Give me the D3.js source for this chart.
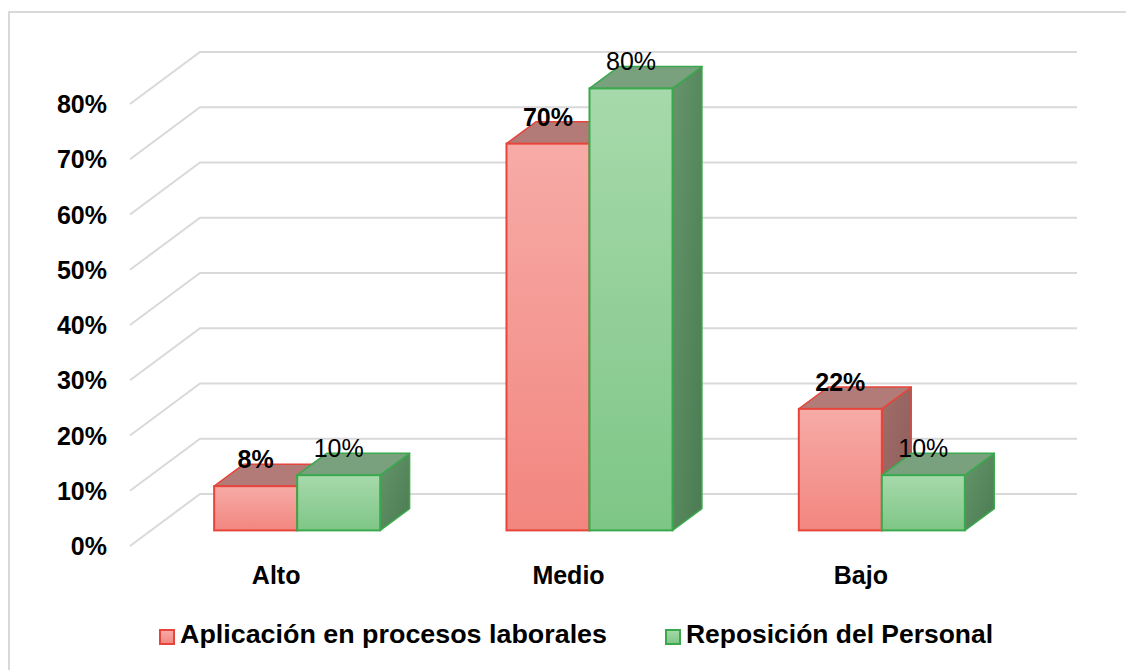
<!DOCTYPE html>
<html>
<head>
<meta charset="utf-8">
<script src="https://cdn.jsdelivr.net/npm/d3@7"></script>
<style>
  body { margin: 0; background: #fff; }
  text { font-family: Arial, "Liberation Sans", sans-serif; }
</style>
</head>
<body>
<div id="chart"></div>
<script>
const categories = ["Alto", "Medio", "Bajo"];
const seriesNames = ["Aplicación en procesos laborales", "Reposición del Personal"];
const aplicacion = [0.08, 0.70, 0.22];
const reposicion = [0.10, 0.80, 0.10];
const yTicks = [0, 0.1, 0.2, 0.3, 0.4, 0.5, 0.6, 0.7, 0.8];

function draw_chart() {
  var width = 1126, height = 670;
  // depth vector of the floor (front edge -> back wall)
  var depth = {dx: 70, dy: -52};
  var barT0 = 0.3, barT1 = 0.72;

  const svg = d3.select("#chart").append("svg")
    .attr("width", width).attr("height", height);

  // outer frame
  svg.append("rect")
    .attr("x", 9).attr("y", 12)
    .attr("width", 1130).attr("height", 680)
    .attr("fill", "none").attr("stroke", "#d9d9d9").attr("stroke-width", 2);

  const y = d3.scaleLinear().domain([0, 0.8]).range([546, 104]);
  const x0 = d3.scaleBand().domain(categories).range([130, 1007]);
  const groupW = x0.bandwidth() * 0.568;
  const x1 = d3.scaleBand().domain(seriesNames).range([0, groupW]);

  const colors = {
    "Aplicación en procesos laborales": {top: "#f7aba7", bottom: "#f2867f", stroke: "#e6453b", lid: "#b37b78", side1: "#a06d69", side2: "#8e5d59"},
    "Reposición del Personal": {top: "#a7d9ab", bottom: "#7ec686", stroke: "#3aa84c", lid: "#7aa17d", side1: "#659569", side2: "#4b7b52"}
  };

  const defs = svg.append("defs");
  seriesNames.forEach((s, i) => {
    const g = defs.append("linearGradient").attr("id", "front" + i)
      .attr("x1", 0).attr("y1", 0).attr("x2", 0).attr("y2", 1);
    g.append("stop").attr("offset", "0%").attr("stop-color", colors[s].top);
    g.append("stop").attr("offset", "100%").attr("stop-color", colors[s].bottom);
    const h = defs.append("linearGradient").attr("id", "side" + i)
      .attr("x1", 0).attr("y1", 0).attr("x2", 1).attr("y2", 1);
    h.append("stop").attr("offset", "0%").attr("stop-color", colors[s].side1);
    h.append("stop").attr("offset", "100%").attr("stop-color", colors[s].side2);
  });

  // gridlines: diagonal on the side wall + back wall line
  const grid = svg.append("g")
    .attr("stroke", "#d9d9d9").attr("stroke-width", 2).attr("fill", "none");
  grid.selectAll("path")
    .data(yTicks)
    .join("path")
    .attr("d", d => `M130,${y(d)}L${130 + depth.dx},${y(d) + depth.dy}L${1007 + depth.dx},${y(d) + depth.dy}`);

  // y axis labels
  svg.append("g").selectAll("text")
    .data(yTicks)
    .join("text")
    .attr("x", 107)
    .attr("y", d => y(d))
    .attr("dy", "0.36em")
    .attr("text-anchor", "end")
    .attr("font-size", 25)
    .attr("font-weight", "bold")
    .attr("fill", "#000")
    .text(d => d3.format(".0%")(d));

  // bars
  const bars = [];
  categories.forEach((c, ci) => {
    [aplicacion, reposicion].forEach((vals, si) => {
      bars.push({cat: c, series: seriesNames[si], si: si, value: vals[ci]});
    });
  });

  const fdx = depth.dx * barT0, fdy = depth.dy * barT0;
  const bdx = depth.dx * (barT1 - barT0), bdy = depth.dy * (barT1 - barT0);
  const off = (x0.bandwidth() - groupW) / 2;

  svg.append("g").selectAll("g")
    .data(bars)
    .join("g")
    .each(function(d) {
      const g = d3.select(this);
      const xl = x0(d.cat) + off + x1(d.series) + fdx;
      const xr = xl + x1.bandwidth();
      const yb = y(0) + fdy;
      const yt = y(d.value) + fdy;
      const col = colors[d.series];
      d.cx = (xl + xr) / 2; d.yt = yt;
      // side face
      g.append("path")
        .attr("d", `M${xr},${yt}L${xr + bdx},${yt + bdy}L${xr + bdx},${yb + bdy}L${xr},${yb}Z`)
        .attr("fill", `url(#side${d.si})`)
        .attr("stroke", col.stroke).attr("stroke-width", 1.5).attr("stroke-linejoin", "round");
      // top face
      g.append("path")
        .attr("d", `M${xl},${yt}L${xl + bdx},${yt + bdy}L${xr + bdx},${yt + bdy}L${xr},${yt}Z`)
        .attr("fill", col.lid)
        .attr("stroke", col.stroke).attr("stroke-width", 1.5).attr("stroke-linejoin", "round");
      // front face
      g.append("rect")
        .attr("x", xl).attr("y", yt)
        .attr("width", xr - xl).attr("height", yb - yt)
        .attr("fill", `url(#front${d.si})`)
        .attr("stroke", col.stroke).attr("stroke-width", 2);
    });

  // data labels
  svg.append("g").selectAll("text")
    .data(bars)
    .join("text")
    .attr("x", d => d.cx)
    .attr("y", d => d.yt - 18)
    .attr("text-anchor", "middle")
    .attr("font-size", 25)
    .attr("font-weight", d => d.si === 0 ? "bold" : "normal")
    .attr("fill", "#000")
    .text(d => d3.format(".0%")(d.value));

  // category labels
  svg.append("g").selectAll("text")
    .data(categories)
    .join("text")
    .attr("x", d => x0(d) + x0.bandwidth() / 2)
    .attr("y", 584)
    .attr("text-anchor", "middle")
    .attr("font-size", 25)
    .attr("font-weight", "bold")
    .attr("fill", "#000")
    .text(d => d);

  // legend
  const legendX = [159, 665];
  const legendLen = [427, 307];
  const legend = svg.append("g").selectAll("g")
    .data(seriesNames)
    .join("g")
    .attr("transform", (d, i) => `translate(${legendX[i]},629)`);
  legend.append("rect")
    .attr("x", 1).attr("y", 1)
    .attr("width", 14).attr("height", 14)
    .attr("fill", (d, i) => `url(#front${i})`)
    .attr("stroke", d => colors[d].stroke).attr("stroke-width", 2);
  legend.append("text")
    .attr("x", 21)
    .attr("y", 14)
    .attr("font-size", 26)
    .attr("font-weight", "bold")
    .attr("fill", "#000")
    .attr("textLength", (d, i) => legendLen[i])
    .attr("lengthAdjust", "spacingAndGlyphs")
    .text(d => d);

  return svg.node();
}
draw_chart();
</script>
</body>
</html>
